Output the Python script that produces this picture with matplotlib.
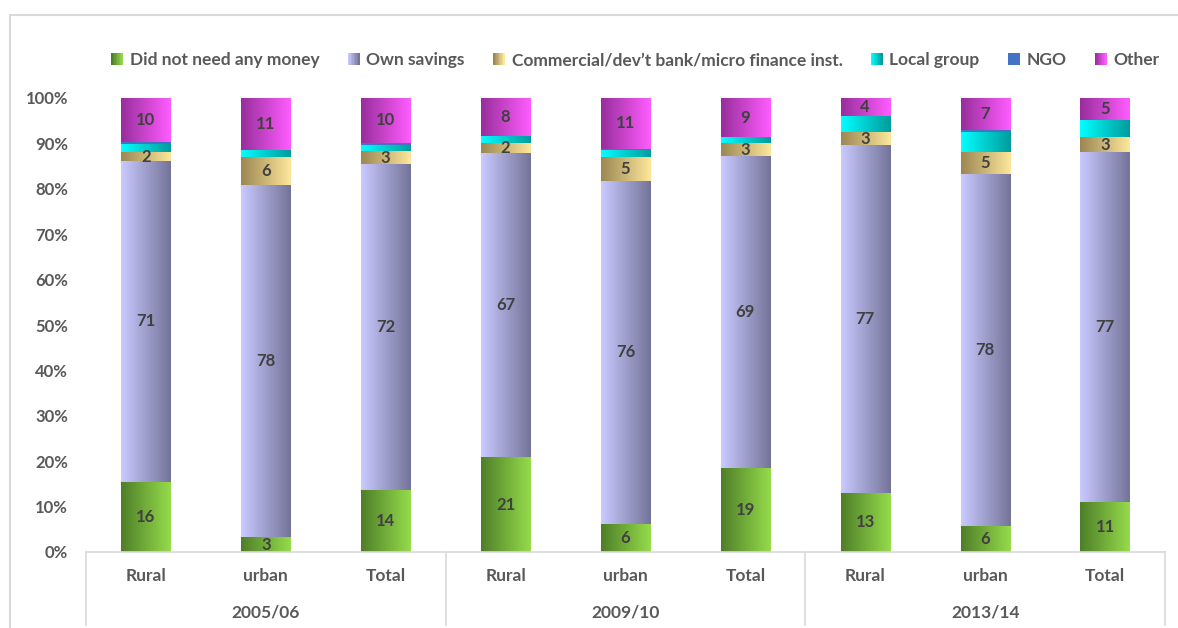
import matplotlib

matplotlib.use("Agg")
import matplotlib.pyplot as plt  # noqa: E402
import numpy as np  # noqa: E402
from matplotlib.colors import LinearSegmentedColormap  # noqa: E402
from matplotlib.legend_handler import HandlerBase  # noqa: E402
from matplotlib.patches import Rectangle  # noqa: E402
from matplotlib.transforms import blended_transform_factory  # noqa: E402

plt.rcParams["font.family"] = ["Lato", "DejaVu Sans"]

years = ["2005/06", "2009/10", "2013/14"]
areas = ["Rural", "urban", "Total"]
series = ["Did not need any money", "Own savings",
          "Commercial/dev\u2019t bank/micro finance inst.", "Local group", "NGO", "Other"]

no_need = [15.5, 3.3, 13.6, 20.9, 6.2, 18.6, 13.0, 5.7, 11.0]
own_savings = [70.6, 77.6, 71.8, 67.0, 75.6, 68.6, 76.6, 77.6, 77.1]
commercial = [2.0, 6.2, 2.9, 2.2, 5.1, 2.8, 2.9, 4.8, 3.3]
local_group = [1.7, 1.5, 1.4, 1.5, 1.7, 1.4, 3.5, 4.5, 3.8]
ngo = [0.4, 0.0, 0.4, 0.0, 0.2, 0.0, 0.0, 0.4, 0.0]
other = [9.8, 11.4, 9.9, 8.4, 11.2, 8.6, 4.0, 7.0, 4.8]

labelled = [True, True, True, False, False, True]

# left -> right shading of each fill
shades = [("#4f7f29", "#95db4b"), ("#c9c9ff", "#74749a"), ("#9c8753", "#fde79b"),
          ("#00ffff", "#009c9c"), ("#4472c4", "#4472c4"), ("#982e9c", "#ff5cff")]

TEXT = "#595959"
GRID = "#d9d9d9"


def grad_cmap(pair):
    return LinearSegmentedColormap.from_list("g", list(pair))


class GradientHandler(HandlerBase):
    def create_artists(self, legend, orig_handle, xdescent, ydescent,
                       width, height, fontsize, trans):
        cmap = grad_cmap(orig_handle.pair)
        side = height * 0.95
        x0 = -xdescent + width - side
        y0 = -ydescent + (height - side) / 2
        n = 8
        arts = []
        for i in range(n):
            r = Rectangle((x0 + side * i / n, y0), side / n + 0.05, side,
                          facecolor=cmap(i / (n - 1)), edgecolor="none",
                          transform=trans)
            arts.append(r)
        return arts


class GradKey:
    def __init__(self, pair):
        self.pair = pair


fig = plt.figure(figsize=(11.78, 6.28), dpi=100)
ax = fig.add_axes([86 / 1178, 76 / 628, 1079 / 1178, 454 / 628])

# chart border
fig.patches.append(Rectangle((10 / 1178, -0.1), 1.2, 1.1 - 15 / 628,
                             transform=fig.transFigure, fill=False,
                             edgecolor=GRID, linewidth=1.5))

data = np.array([no_need, own_savings, commercial, local_group, ngo, other])
x = np.arange(len(no_need))
width = 0.41
bottom = np.zeros(len(x))
grad = np.linspace(0, 1, 64).reshape(1, -1)

for k, vals in enumerate(data):
    bars = ax.bar(x, vals, width, bottom=bottom, color="none", edgecolor="none")
    cmap = grad_cmap(shades[k])
    for rect, v, b in zip(bars, vals, bottom):
        if v <= 0:
            continue
        x0 = rect.get_x()
        im = ax.imshow(grad, cmap=cmap, aspect="auto", interpolation="bilinear",
                       extent=[x0, x0 + rect.get_width(), b, b + v], zorder=2)
        im.set_clip_path(rect)
        if labelled[k]:
            ax.text(rect.get_x() + rect.get_width() / 2, b + v / 2, f"{v:.0f}",
                    ha="center", va="center", fontsize=12, fontweight="bold",
                    color="#404040", zorder=3)
    bottom = bottom + vals

ax.set_xlim(-0.5, len(x) - 0.5)
ax.set_ylim(0, 100)
ax.set_yticks(np.arange(0, 101, 10))
ax.set_yticklabels([f"{t}%" for t in range(0, 101, 10)])
ax.tick_params(axis="y", length=0, pad=13, labelsize=12, labelcolor=TEXT)
for lab in ax.get_yticklabels():
    lab.set_fontweight("bold")
ax.set_xticks([])
for side in ["left", "right", "top"]:
    ax.spines[side].set_visible(False)
ax.spines["bottom"].set_color(GRID)
ax.spines["bottom"].set_linewidth(1.2)

# two-level category axis
tr = blended_transform_factory(ax.transData, ax.transAxes)
for i, xi in enumerate(x):
    ax.text(xi, -24 / 454, areas[i % 3], transform=tr, ha="center", va="center",
            fontsize=12.5, fontweight="bold", color=TEXT)
for g, yr in enumerate(years):
    ax.text(g * 3 + 1, -61 / 454, yr, transform=tr, ha="center", va="center",
            fontsize=12.5, fontweight="bold", color=TEXT)
for b in np.arange(0, len(x) + 1, 3) - 0.5:
    ax.plot([b, b], [0, -73 / 454], transform=tr, color=GRID, linewidth=1.2,
            clip_on=False)

keys = [GradKey(p) for p in shades]
leg = fig.legend(keys, series, loc="center", bbox_to_anchor=(0.540, 1 - 60 / 628),
                 ncol=6, frameon=False, handler_map={GradKey: GradientHandler()},
                 handlelength=0.6, handletextpad=0.4, columnspacing=1.7,
                 prop={"size": 12.5, "weight": "bold"})
for t in leg.get_texts():
    t.set_color(TEXT)

fig.savefig("out.png", dpi=100)
